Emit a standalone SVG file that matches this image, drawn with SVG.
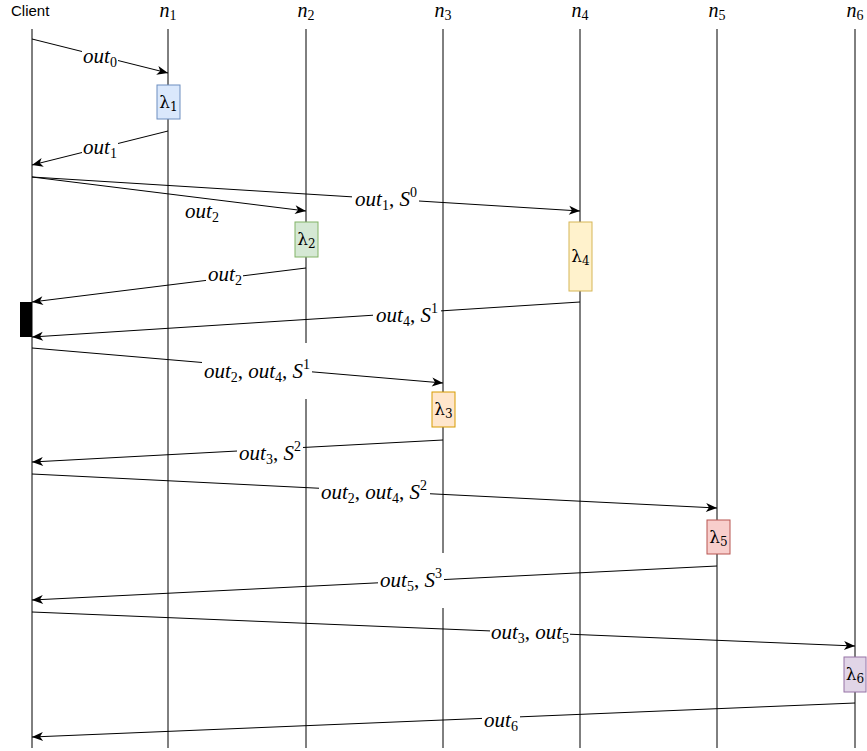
<svg xmlns="http://www.w3.org/2000/svg" width="867" height="751" viewBox="0 0 867 751">
<defs>
<marker id="arr" markerUnits="userSpaceOnUse" markerWidth="12" markerHeight="10" refX="11" refY="4.5" orient="auto" overflow="visible">
<path d="M0,0 L11,4.5 L0,9 L3,4.5 Z" fill="#000"/>
</marker>
<style>
.life{stroke:#000;stroke-width:1;fill:none}
.msg{stroke:#000;stroke-width:1;fill:none;marker-end:url(#arr)}
.bg{fill:#fff}
.m{font-family:"Liberation Serif","Times New Roman",serif;font-size:21px;font-style:italic;fill:#000;text-anchor:middle}
.s{font-size:14px;font-style:normal}
.u{font-style:normal}
.hd{font-family:"Liberation Serif","Times New Roman",serif;font-size:20px;font-style:italic;fill:#000;text-anchor:middle}
.lam{font-family:"DejaVu Serif","Liberation Serif",serif;font-size:17px;fill:#000;text-anchor:middle}
.lam .s{font-size:12px}
.cl{font-family:"Liberation Sans",Arial,sans-serif;font-size:15px;fill:#000}
</style>
</defs>
<rect width="867" height="751" fill="#fff"/>

<g id="client">
<text class="cl" x="11" y="16">Client</text>
<path class="life" d="M32,29 V748"/>
<rect x="20" y="302" width="12" height="35" fill="#000"/>
</g>
<g id="n1">
<text class="hd" x="168" y="17">n<tspan class="s" dy="3">1</tspan></text>
<path class="life" d="M168,29 V748"/>
</g>
<g id="n2">
<text class="hd" x="306" y="17">n<tspan class="s" dy="3">2</tspan></text>
<path class="life" d="M306,29 V343 M306,399 V748"/>
</g>
<g id="n3">
<text class="hd" x="443" y="17">n<tspan class="s" dy="3">3</tspan></text>
<path class="life" d="M443,29 V553 M443,608 V748"/>
</g>
<g id="n4">
<text class="hd" x="580" y="17">n<tspan class="s" dy="3">4</tspan></text>
<path class="life" d="M580,29 V748"/>
</g>
<g id="n5">
<text class="hd" x="717" y="17">n<tspan class="s" dy="3">5</tspan></text>
<path class="life" d="M717,29 V748"/>
</g>
<g id="n6">
<text class="hd" x="855" y="17">n<tspan class="s" dy="3">6</tspan></text>
<path class="life" d="M855,29 V748"/>
</g>

<g id="lambda1"><rect x="157" y="85" width="23" height="34" fill="#dae8fc" stroke="#6c8ebf"/><text class="lam" x="168.5" y="108">λ<tspan class="s" dy="3">1</tspan></text></g>
<g id="lambda2"><rect x="295" y="222" width="23" height="35" fill="#d5e8d4" stroke="#82b366"/><text class="lam" x="306.5" y="245">λ<tspan class="s" dy="3">2</tspan></text></g>
<g id="lambda4"><rect x="569" y="222" width="23" height="69" fill="#fff2cc" stroke="#d6b656"/><text class="lam" x="580.5" y="262">λ<tspan class="s" dy="3">4</tspan></text></g>
<g id="lambda3"><rect x="432" y="392" width="23" height="35" fill="#ffe6cc" stroke="#d79b00"/><text class="lam" x="443.5" y="415">λ<tspan class="s" dy="3">3</tspan></text></g>
<g id="lambda5"><rect x="707" y="520" width="23" height="34" fill="#f8cecc" stroke="#b85450"/><text class="lam" x="718.5" y="543">λ<tspan class="s" dy="3">5</tspan></text></g>
<g id="lambda6"><rect x="844" y="657" width="22" height="35" fill="#e1d5e7" stroke="#9673a6"/><text class="lam" x="855" y="680">λ<tspan class="s" dy="3">6</tspan></text></g>

<g id="connectors">
<path class="msg" d="M32,39 L168,73"/>
<path class="msg" d="M168,131 L32,165"/>
<path class="msg" d="M32,177 L306,211"/>
<path class="msg" d="M32,177 L580,211"/>
<path class="msg" d="M306,268 L32,302"/>
<path class="msg" d="M580,302 L32,337"/>
<path class="msg" d="M32,348 L443,383"/>
<path class="msg" d="M443,440 L32,462"/>
<path class="msg" d="M32,474 L717,508"/>
<path class="msg" d="M717,566 L32,600"/>
<path class="msg" d="M32,612 L855,646"/>
<path class="msg" d="M855,703 L32,737"/>

<rect class="bg" x="82" y="50" width="36" height="16"/>
<text class="m" x="100" y="63">out<tspan class="s" dy="4">0</tspan></text>

<rect class="bg" x="82" y="140" width="36" height="18"/>
<text class="m" x="100" y="154">out<tspan class="s" dy="4">1</tspan></text>

<text class="m" x="202" y="218">out<tspan class="s" dy="4">2</tspan></text>

<rect class="bg" x="352" y="188" width="67" height="20"/>
<text class="m" x="386" y="206">out<tspan class="s" dy="4">1</tspan><tspan class="u" dy="-4">, </tspan>S<tspan class="s" dy="-9">0</tspan></text>

<rect class="bg" x="206" y="268" width="37" height="17"/>
<text class="m" x="225" y="281">out<tspan class="s" dy="4">2</tspan></text>

<rect class="bg" x="373" y="306" width="68" height="20"/>
<text class="m" x="407" y="322">out<tspan class="s" dy="4">4</tspan><tspan class="u" dy="-4">, </tspan>S<tspan class="s" dy="-9">1</tspan></text>

<rect class="bg" x="202" y="358" width="110" height="24"/>
<text class="m" x="257" y="378">out<tspan class="s" dy="4">2</tspan><tspan class="u" dy="-4">, </tspan>out<tspan class="s" dy="4">4</tspan><tspan class="u" dy="-4">, </tspan>S<tspan class="s" dy="-9">1</tspan></text>

<rect class="bg" x="237" y="444" width="66" height="20"/>
<text class="m" x="270" y="460">out<tspan class="s" dy="4">3</tspan><tspan class="u" dy="-4">, </tspan>S<tspan class="s" dy="-9">2</tspan></text>

<rect class="bg" x="319" y="483" width="111" height="20"/>
<text class="m" x="374" y="499">out<tspan class="s" dy="4">2</tspan><tspan class="u" dy="-4">, </tspan>out<tspan class="s" dy="4">4</tspan><tspan class="u" dy="-4">, </tspan>S<tspan class="s" dy="-9">2</tspan></text>

<rect class="bg" x="378" y="568" width="66" height="22"/>
<text class="m" x="411" y="587">out<tspan class="s" dy="4">5</tspan><tspan class="u" dy="-4">, </tspan>S<tspan class="s" dy="-9">3</tspan></text>

<rect class="bg" x="490" y="624" width="80" height="20"/>
<text class="m" x="530" y="639">out<tspan class="s" dy="4">3</tspan><tspan class="u" dy="-4">, </tspan>out<tspan class="s" dy="4">5</tspan></text>

<rect class="bg" x="482" y="712" width="38" height="19"/>
<text class="m" x="501" y="727">out<tspan class="s" dy="4">6</tspan></text>
</g>
</svg>
